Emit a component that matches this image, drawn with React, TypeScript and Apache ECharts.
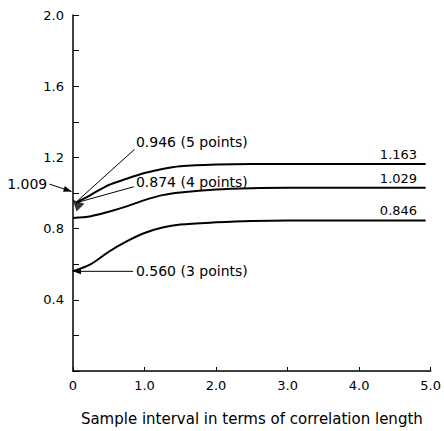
import React, { useEffect, useRef } from "react";
import * as echarts from "echarts";

// Curve data (x: sample interval / correlation length, y: value)
const xFive = [0.04, 0.25, 0.5, 0.75, 1.0, 1.25, 1.5, 2.0, 2.5, 3.0, 4.0, 4.93];
const yFive = [0.946, 0.99, 1.045, 1.08, 1.112, 1.135, 1.15, 1.16, 1.163, 1.163, 1.163, 1.163];
const xFour = [0.0, 0.25, 0.5, 0.75, 1.0, 1.25, 1.5, 2.0, 2.5, 3.0, 4.0, 4.93];
const yFour = [0.86, 0.87, 0.895, 0.925, 0.96, 0.988, 1.003, 1.02, 1.027, 1.029, 1.029, 1.029];
const xThree = [0.0, 0.25, 0.5, 0.75, 1.0, 1.25, 1.5, 2.0, 2.5, 3.0, 4.0, 4.93];
const yThree = [0.56, 0.6, 0.67, 0.728, 0.775, 0.806, 0.823, 0.835, 0.843, 0.846, 0.846, 0.846];

const endLabels = ["1.163", "1.029", "0.846"];
const endValues = [1.163, 1.029, 0.846];
const endLabelX = 4.55;

// Annotations: text, text anchor (data), arrow start (data), arrow end (data)
const annTexts = ["0.946 (5 points)", "0.874 (4 points)", "0.560 (3 points)", "1.009"];
const annTextPos = [[0.88, 1.289], [0.88, 1.059], [0.88, 0.56], [-0.36, 1.053]];
const annFrom = [[0.86, 1.245], [0.85, 1.035], [0.84, 0.56], [-0.33, 1.05]];
const annTo = [[0.06, 0.955], [0.07, 0.948], [0.0, 0.56], [-0.02, 1.009]];
const annArrow = [false, false, true, true];
const annAlign = ["left", "left", "left", "right"];

const markerPoint = [0.05, 0.94];

const xTicks = [0, 1, 2, 3, 4, 5];
const yMax = 2.0;
const xName = "Sample interval in terms of correlation length";

const FONT = "DejaVu Sans";

function pairs(xs: number[], ys: number[]) {
  return xs.map((x, i) => [x, ys[i]]);
}

export default function App() {
  const ref = useRef<HTMLDivElement>(null);
  useEffect(() => {
    if (!ref.current) return;
    const chart = echarts.init(ref.current, null, { renderer: "svg" });
    const lineStyle = { color: "#000", width: 2 };
    chart.setOption({
      animation: false,
      backgroundColor: "#fff",
      grid: { left: 73, right: 7, top: 15, bottom: 59 },
      xAxis: {
        type: "value",
        min: xTicks[0],
        max: xTicks[xTicks.length - 1],
        interval: 1,
        axisLine: { lineStyle: { color: "#000", width: 1.5 } },
        axisTick: { inside: true, length: 4, lineStyle: { color: "#000" } },
        splitLine: { show: false },
        axisLabel: {
          color: "#000",
          fontFamily: FONT,
          fontSize: 13,
          margin: 8,
          formatter: (v: number) => (v === 0 ? "0" : v.toFixed(1)),
        },
        name: xName,
        nameLocation: "middle",
        nameGap: 40,
        nameTextStyle: { color: "#000", fontFamily: FONT, fontSize: 15 },
      },
      yAxis: {
        type: "value",
        min: 0,
        max: yMax,
        interval: 0.2,
        axisLine: { show: true, lineStyle: { color: "#000", width: 1.5 } },
        axisTick: { inside: true, length: 6, lineStyle: { color: "#000" } },
        splitLine: { show: false },
        axisLabel: {
          color: "#000",
          fontFamily: FONT,
          fontSize: 13,
          margin: 9,
          formatter: (v: number) => {
            const k = Math.round(v * 10);
            return k > 0 && k % 4 === 0 ? v.toFixed(1) : "";
          },
        },
      },
      series: [
        { type: "line", data: pairs(xFive, yFive), smooth: 0.3, showSymbol: false, lineStyle, z: 3 },
        { type: "line", data: pairs(xFour, yFour), smooth: 0.3, showSymbol: false, lineStyle, z: 3 },
        { type: "line", data: pairs(xThree, yThree), smooth: 0.3, showSymbol: false, lineStyle, z: 3 },
        {
          type: "scatter",
          data: [markerPoint],
          symbol: "triangle",
          symbolSize: 11,
          symbolRotate: 45,
          itemStyle: { color: "#000" },
          z: 4,
        },
      ],
    });

    const px = (p: number[]) => chart.convertToPixel({ gridIndex: 0 }, p) as number[];
    const graphics: any[] = [];
    endLabels.forEach((t, i) => {
      const p = px([endLabelX, endValues[i]]);
      graphics.push({
        type: "text",
        x: p[0],
        y: p[1] - 3,
        style: { text: t, fill: "#000", font: `13px '${FONT}'`, textAlign: "center", textVerticalAlign: "bottom" },
      });
    });
    annTexts.forEach((t, i) => {
      const tp = px(annTextPos[i]);
      graphics.push({
        type: "text",
        x: tp[0],
        y: tp[1],
        style: { text: t, fill: "#000", font: `14px '${FONT}'`, textAlign: annAlign[i], textVerticalAlign: "middle" },
        z: 10,
      });
      const a = px(annFrom[i]);
      const b = px(annTo[i]);
      graphics.push({
        type: "line",
        shape: { x1: a[0], y1: a[1], x2: b[0], y2: b[1] },
        style: { stroke: "#000", lineWidth: 1 },
        z: 10,
      });
      if (annArrow[i]) {
        const dx = b[0] - a[0];
        const dy = b[1] - a[1];
        const len = Math.hypot(dx, dy) || 1;
        const ux = dx / len, uy = dy / len;
        const L = 8, W = 3;
        const bx = b[0] - ux * L, by = b[1] - uy * L;
        graphics.push({
          type: "polygon",
          shape: { points: [[b[0], b[1]], [bx - uy * W, by + ux * W], [bx + uy * W, by - ux * W]] },
          style: { fill: "#000" },
          z: 10,
        });
      }
    });
    chart.setOption({ graphic: graphics });
    return () => chart.dispose();
  }, []);
  return <div ref={ref} style={{ width: 444, height: 431, position: "absolute", left: 0, top: 0 }} />;
}
